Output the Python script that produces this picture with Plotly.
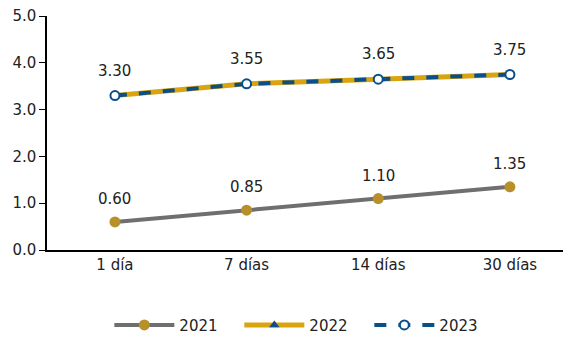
import plotly.graph_objects as go

categories = ["1 día", "7 días", "14 días", "30 días"]
s2021 = [0.60, 0.85, 1.10, 1.35]
s2022 = [3.30, 3.55, 3.65, 3.75]
s2023 = [3.30, 3.55, 3.65, 3.75]
label_2021 = ["0.60", "0.85", "1.10", "1.35"]
label_top = ["3.30", "3.55", "3.65", "3.75"]

FONT = "DejaVu Sans, Verdana, sans-serif"
fig = go.Figure()
fig.add_trace(go.Scatter(x=categories, y=s2021, name="2021", mode="lines+markers",
                         line=dict(color="#6F6F6F", width=4),
                         marker=dict(symbol="circle", size=11, color="#B8902A")))
fig.add_trace(go.Scatter(x=categories, y=s2022, name="2022", mode="lines+markers",
                         line=dict(color="#D9A40E", width=5),
                         marker=dict(symbol="triangle-up", size=9, color="#0B4F8A")))
fig.add_trace(go.Scatter(x=categories, y=s2023, name="2023", mode="lines+markers",
                         line=dict(color="#0B4F8A", width=4, dash="dash"),
                         marker=dict(symbol="circle", size=9, color="white",
                                     line=dict(color="#0B4F8A", width=2))))

for c, v, t in zip(categories, s2021, label_2021):
    fig.add_annotation(x=c, y=v, text=t, showarrow=False, yshift=23,
                       font=dict(size=15, color="#222222", family=FONT))
for c, v, t in zip(categories, s2023, label_top):
    fig.add_annotation(x=c, y=v, text=t, showarrow=False, yshift=25,
                       font=dict(size=15, color="#222222", family=FONT))

fig.update_layout(
    width=563, height=329,
    margin=dict(l=39, r=0, t=8, b=87, autoexpand=False),
    plot_bgcolor="white", paper_bgcolor="white",
    font=dict(family=FONT, size=15, color="#222222"),
    showlegend=True,
    legend=dict(orientation="h", xref="container", x=0.18, xanchor="left",
                yref="container", y=0.036, yanchor="middle",
                font=dict(size=15), itemwidth=60, entrywidth=55),
    xaxis=dict(showline=True, linecolor="black", linewidth=1.5, ticks="",
               showgrid=False, tickfont=dict(size=15), range=[-0.516, 3.464]),
    yaxis=dict(range=[0, 5], dtick=1, tickformat=".1f", showline=True,
               linecolor="black", linewidth=1.5, ticks="outside", ticklen=6,
               tickcolor="black", showgrid=False, zeroline=False,
               tickfont=dict(size=15), ticklabeloverflow="allow"),
)
fig.write_html("out.html")
